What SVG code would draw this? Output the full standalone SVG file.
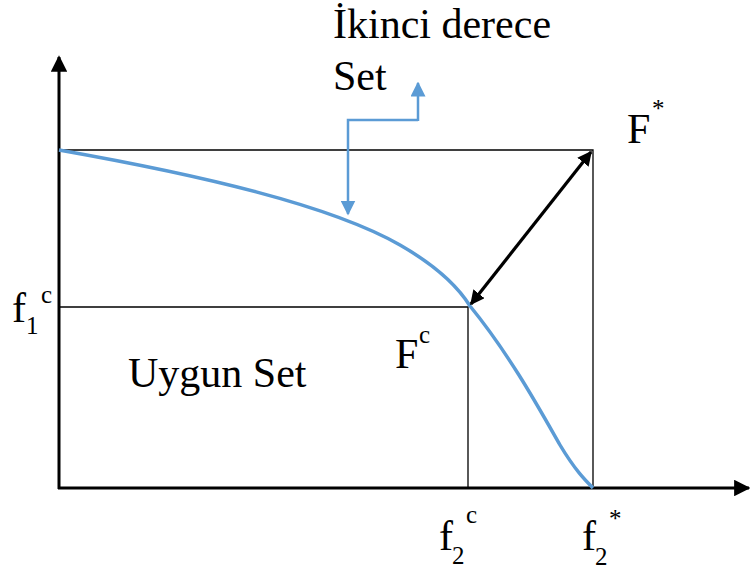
<svg xmlns="http://www.w3.org/2000/svg" width="750" height="574" viewBox="0 0 750 574">
<defs>
<marker id="ah" viewBox="0 0 10 10" refX="9" refY="5" markerWidth="5.5" markerHeight="5.5" orient="auto" markerUnits="strokeWidth"><path d="M0,0L10,5L0,10z" fill="#000"/></marker>
<marker id="ahb" viewBox="0 0 10 10" refX="9" refY="5" markerWidth="6" markerHeight="6" orient="auto" markerUnits="strokeWidth"><path d="M0,0L10,5L0,10z" fill="#5B9BD5"/></marker>
<marker id="ahk" viewBox="0 0 10 10" refX="9" refY="5" markerWidth="4.5" markerHeight="4.5" orient="auto-start-reverse" markerUnits="strokeWidth"><path d="M0,0L10,5L0,10z" fill="#000"/></marker>
</defs>
<g id="axes" stroke="#000" stroke-width="3" fill="none">
<line x1="59" y1="489" x2="59" y2="57" marker-end="url(#ah)"/>
<line x1="58" y1="488" x2="749" y2="488" marker-end="url(#ah)"/>
</g>
<g id="box-lines" stroke="#000" stroke-width="1.3" fill="none">
<polyline points="59,150 593,150 593,488"/>
<polyline points="59,307 468,307 468,488"/>
</g>
<g id="curve">
<path stroke="#5B9BD5" fill="none" stroke-width="3.5" d="M59,150 C200,175 330,205 400,245 C440,268 460,290 470,306 C510,355 540,410 560,445 C575,470 585,480 593,488"/>
</g>
<g id="connectors">
<polyline stroke="#5B9BD5" fill="none" stroke-width="2.5" points="418,120 348,120 348,214" marker-end="url(#ahb)"/>
<line stroke="#5B9BD5" stroke-width="2.5" x1="418" y1="121" x2="418" y2="83" marker-end="url(#ahb)"/>
<line stroke="#000" stroke-width="3.2" x1="471" y1="304" x2="591" y2="152" marker-start="url(#ahk)" marker-end="url(#ahk)"/>
</g>
<g id="labels" fill="#000">
<text font-family="Liberation Serif" font-size="42" x="333" y="38">&#304;kinci derece</text>
<text font-family="Liberation Serif" font-size="42" x="333" y="90">Set</text>
<text font-family="Liberation Serif" font-size="42" x="627" y="143">F</text>
<text font-family="Liberation Serif" font-size="25" x="652" y="117">*</text>
<text font-family="Liberation Serif" font-size="42" x="12" y="322">f</text>
<text font-family="Liberation Serif" font-size="25" x="26" y="334">1</text>
<text font-family="Liberation Serif" font-size="25" x="41" y="303">c</text>
<text font-family="Liberation Serif" font-size="42" x="128" y="387">Uygun Set</text>
<text font-family="Liberation Serif" font-size="42" x="395" y="368">F</text>
<text font-family="Liberation Serif" font-size="25" x="419" y="343">c</text>
<text font-family="Liberation Serif" font-size="42" x="439" y="550">f</text>
<text font-family="Liberation Serif" font-size="25" x="452" y="564">2</text>
<text font-family="Liberation Serif" font-size="25" x="466" y="523">c</text>
<text font-family="Liberation Serif" font-size="42" x="582" y="550">f</text>
<text font-family="Liberation Serif" font-size="25" x="595" y="565">2</text>
<text font-family="Liberation Serif" font-size="25" x="609" y="527">*</text>
</g>
</svg>
